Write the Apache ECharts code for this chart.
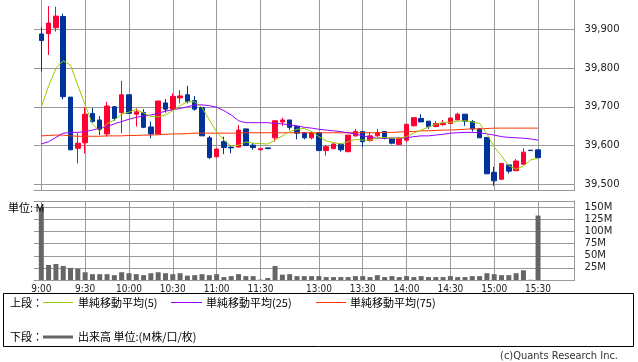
<!DOCTYPE html>
<html><head><meta charset="utf-8">
<script src="https://cdn.jsdelivr.net/npm/echarts@6/dist/echarts.min.js"></script>
<style>html,body{margin:0;padding:0;background:#fff}#c{width:638px;height:362px}</style>
</head><body><div id="c"></div>
<script>
// ---- data (5-minute bars) ----
const times = ['9:00','9:05','9:10','9:15','9:20','9:25','9:30','9:35','9:40','9:45','9:50','9:55',
 '10:00','10:05','10:10','10:15','10:20','10:25','10:30','10:35','10:40','10:45','10:50','10:55',
 '11:00','11:05','11:10','11:15','11:20','11:25','11:30',
 '12:25','12:30','12:35','12:40','12:45','12:50','12:55',
 '13:00','13:05','13:10','13:15','13:20','13:25','13:30','13:35','13:40','13:45','13:50','13:55',
 '14:00','14:05','14:10','14:15','14:20','14:25','14:30','14:35','14:40','14:45','14:50','14:55',
 '15:00','15:05','15:10','15:15','15:20','15:25','15:30'];
const tickLabels = ['9:00','9:30','10:00','10:30','11:00','11:30','13:00','13:30','14:00','14:30','15:00','15:30'];

const open  = [39888,39889,39904,39933,39725,39593,39607,39683,39666,39630,39700,39685,39731,39681,39685,39648,39630,39710,39694,39723,39731,39716,39698,39620,39571,39610,39596,39596,39643,39601,39589,39594,39620,39661,39666,39649,39633,39620,39633,39587,39592,39603,39584,39625,39636,39613,39625,39636,39619,39603,39614,39651,39670,39663,39649,39654,39657,39666,39681,39662,39643,39621,39531,39513,39550,39535,39552,39588,39589];
const close = [39871,39916,39934,39726,39589,39606,39681,39662,39642,39702,39670,39731,39683,39687,39647,39630,39715,39694,39727,39728,39714,39694,39625,39569,39591,39595,39594,39640,39600,39595,39592,39592,39664,39666,39647,39632,39620,39633,39587,39597,39604,39589,39627,39636,39610,39625,39633,39619,39606,39619,39655,39672,39661,39649,39657,39657,39671,39681,39663,39643,39620,39527,39509,39554,39534,39560,39583,39587,39569];
const low   = [39791,39834,39894,39719,39588,39554,39580,39659,39627,39623,39664,39632,39682,39649,39645,39619,39630,39685,39692,39709,39709,39690,39625,39565,39570,39578,39580,39595,39599,39589,39588,39592,39610,39651,39640,39616,39616,39616,39586,39574,39591,39584,39584,39623,39596,39610,39623,39616,39603,39601,39609,39649,39661,39643,39647,39651,39655,39666,39651,39636,39620,39527,39496,39513,39528,39535,39551,39587,39569];
const high  = [39905,39960,39958,39940,39725,39632,39699,39697,39676,39713,39702,39767,39731,39696,39694,39662,39715,39720,39735,39743,39754,39728,39698,39625,39593,39623,39600,39653,39643,39607,39592,39594,39664,39672,39666,39649,39635,39636,39633,39601,39606,39606,39627,39643,39636,39634,39643,39636,39619,39621,39655,39672,39681,39663,39663,39666,39672,39685,39681,39666,39645,39621,39545,39554,39550,39565,39593,39588,39589];

const volume = [150,31,33,29,25,23,16,12,12,12,10,16,14,12,10,14,16,14,12,14,9,10,12,10,12,6,8,12,8,8,0.7,4,29,11,12,8,8,8,8,6,6,6,6,8,8,6,10,6,8,6,8,6,8,6,6,6,8,6,6,8,8,14,12,10,10,14,20,0.5,133];

const ma5  = [39699,39754,39799,39819,39807,39755,39705,39655,39637,39657,39666,39681,39686,39693,39684,39675,39674,39679,39690,39703,39713,39713,39698,39666,39635,39614,39598,39601,39609,39606,39605,39604,39614,39625,39636,39642,39644,39636,39623,39612,39608,39604,39610,39616,39614,39614,39620,39621,39619,39619,39623,39632,39640,39648,39655,39660,39660,39663,39664,39661,39657,39630,39596,39573,39548,39539,39547,39563,39567];
const ma25 = [39604,39610,39621,39632,39634,39634,39636,39640,39645,39649,39656,39662,39668,39673,39676,39679,39683,39689,39692,39696,39700,39705,39705,39703,39699,39690,39679,39664,39659,39659,39659,39659,39657,39656,39653,39651,39647,39645,39642,39640,39638,39636,39633,39630,39625,39621,39619,39619,39619,39619,39620,39623,39625,39625,39627,39629,39632,39633,39634,39634,39633,39630,39627,39623,39621,39620,39619,39617,39614];
const ma75 = [39625,39626,39627,39627,39625,39624,39624,39624,39624,39625,39625,39625,39626,39626,39627,39627,39628,39629,39630,39630,39631,39632,39632,39632,39632,39632,39632,39632,39633,39633,39633,39633,39633,39633,39633,39633,39633,39633,39633,39633,39633,39633,39633,39633,39633,39633,39633,39634,39634,39635,39636,39636,39638,39638,39639,39640,39640,39641,39642,39643,39643,39644,39645,39645,39645,39645,39645,39645,39645];

const priceTicks = {min: 39500, max: 39900, step: 100};
const volTicks = {min: 0, max: 150, step: 25};

// ---- layout helpers ----
const SLOT = 7.305, LEFT = 34, NSLOT = 74;
const W = SLOT * NSLOT;
const cats = ['p0'].concat(times).concat(['p1','p2','p3','p4','p5']);
const isTick = (i, v) => tickLabels.indexOf(v) >= 0;
const GRID = '#999';
const AX_FONT = 'DejaVu Sans';
const JP = '"Noto Sans CJK JP", sans-serif';

const candleData = times.map((t, i) => [i + 1, open[i], close[i], low[i], high[i]]);
const lineData = arr => arr.map((v, i) => [i + 1, v]);

const chart = echarts.init(document.getElementById('c'), null, {renderer: 'canvas'});
chart.setOption({
  animation: false,
  backgroundColor: '#fff',
  grid: [
    {left: LEFT, top: 0, width: W, height: 190},
    {left: LEFT, top: 29.3, width: W, height: 155},
    {left: LEFT, top: 201, width: W, height: 79},
    {left: LEFT, top: 207.3, width: W, height: 72.7}
  ],
  xAxis: [
    {gridIndex: 0, type: 'category', data: cats, boundaryGap: false,
     axisLine: {show: true, lineStyle: {color: GRID}}, axisTick: {show: false}, axisLabel: {show: false},
     splitLine: {show: true, interval: isTick, lineStyle: {color: GRID, width: 1}}},
    {gridIndex: 1, type: 'value', show: false, min: 0, max: 1},
    {gridIndex: 2, type: 'category', data: cats, boundaryGap: false,
     axisLine: {show: true, lineStyle: {color: GRID}}, axisTick: {show: false},
     axisLabel: {show: true, interval: isTick, margin: 4, fontFamily: '"DejaVu Sans Condensed", "DejaVu Sans"', fontSize: 10, color: '#222'},
     splitLine: {show: true, interval: isTick, lineStyle: {color: GRID, width: 1}}},
    {gridIndex: 2, type: 'category', data: cats, boundaryGap: false, position: 'top',
     axisLine: {show: true, lineStyle: {color: GRID}}, axisTick: {show: false}, axisLabel: {show: false}, splitLine: {show: false}},
    {gridIndex: 3, type: 'value', show: false, min: 0, max: 1}
  ],
  yAxis: [
    {gridIndex: 0, type: 'value', position: 'right', min: 39485.3, max: 39975.6, scale: true,
     axisLine: {show: true, lineStyle: {color: GRID}}, axisTick: {show: false}, axisLabel: {show: false}, splitLine: {show: false}},
    {gridIndex: 1, type: 'value', position: 'right', min: priceTicks.min, max: priceTicks.max, interval: priceTicks.step,
     axisLine: {show: false}, axisTick: {show: true, length: 6, lineStyle: {color: GRID}},
     axisLabel: {margin: 10, fontFamily: AX_FONT, fontSize: 10, color: '#222', formatter: v => v.toLocaleString('en-US')},
     splitLine: {show: true, lineStyle: {color: GRID, width: 1}}},
    {gridIndex: 2, type: 'value', position: 'right', min: 0, max: 163,
     axisLine: {show: true, lineStyle: {color: GRID}}, axisTick: {show: false}, axisLabel: {show: false}, splitLine: {show: false}},
    {gridIndex: 3, type: 'value', position: 'right', min: volTicks.min, max: volTicks.max, interval: volTicks.step,
     axisLine: {show: false}, axisTick: {show: true, length: 6, lineStyle: {color: GRID}},
     axisLabel: {margin: 10, fontFamily: AX_FONT, fontSize: 10, color: '#222', formatter: v => v === 0 ? '' : v + 'M'},
     splitLine: {show: true, lineStyle: {color: GRID, width: 1}}}
  ],
  series: [
    {type: 'candlestick', xAxisIndex: 0, yAxisIndex: 0, data: candleData, encode: {x: 0, y: [1, 2, 3, 4]},
     barWidth: 5, z: 3,
     itemStyle: {color: '#ff0033', color0: '#003399', borderColor: '#ff0033', borderColor0: '#003399', borderWidth: 1}},
    {type: 'line', name: 'ma75', xAxisIndex: 0, yAxisIndex: 0, data: lineData(ma75), symbol: 'none', z: 4,
     lineStyle: {color: '#ff3300', width: 1}},
    {type: 'line', name: 'ma25', xAxisIndex: 0, yAxisIndex: 0, data: lineData(ma25), symbol: 'none', z: 4,
     lineStyle: {color: '#9900ff', width: 1}},
    {type: 'line', name: 'ma5', xAxisIndex: 0, yAxisIndex: 0, data: lineData(ma5), symbol: 'none', z: 4,
     lineStyle: {color: '#99cc00', width: 1}},
    {type: 'bar', xAxisIndex: 2, yAxisIndex: 2, data: lineData(volume), barWidth: 5,
     itemStyle: {color: '#666'}}
  ],
  graphic: [
    {type: 'text', left: 8, top: 202, z: 10, style: {text: '単位: M', font: '11px ' + JP, fill: '#000'}},
    {type: 'rect', shape: {x: 3.5, y: 293.5, width: 630, height: 53}, style: {fill: 'none', stroke: '#000', lineWidth: 1}},
    {type: 'text', x: 10, y: 303, style: {text: '上段：', font: '11px ' + JP, fill: '#000', verticalAlign: 'middle'}},
    {type: 'line', shape: {x1: 43, y1: 302.5, x2: 73, y2: 302.5}, style: {stroke: '#99cc00', lineWidth: 1}},
    {type: 'text', x: 78, y: 303, style: {text: '単純移動平均(5)', font: '11px ' + JP, fill: '#000', verticalAlign: 'middle'}},
    {type: 'line', shape: {x1: 171, y1: 302.5, x2: 202, y2: 302.5}, style: {stroke: '#9900ff', lineWidth: 1}},
    {type: 'text', x: 206, y: 303, style: {text: '単純移動平均(25)', font: '11px ' + JP, fill: '#000', verticalAlign: 'middle'}},
    {type: 'line', shape: {x1: 316, y1: 302.5, x2: 346, y2: 302.5}, style: {stroke: '#ff3300', lineWidth: 1}},
    {type: 'text', x: 350, y: 303, style: {text: '単純移動平均(75)', font: '11px ' + JP, fill: '#000', verticalAlign: 'middle'}},
    {type: 'text', x: 10, y: 337, style: {text: '下段：', font: '11px ' + JP, fill: '#000', verticalAlign: 'middle'}},
    {type: 'line', shape: {x1: 43, y1: 337, x2: 73, y2: 337}, style: {stroke: '#666', lineWidth: 3}},
    {type: 'text', x: 78, y: 337, style: {text: '出来高 単位:(M株/口/枚)', font: '11px ' + JP, fill: '#000', verticalAlign: 'middle'}},
    {type: 'text', x: 618, y: 356, style: {text: '(c)Quants Research Inc.', font: '11px "DejaVu Sans Condensed", "DejaVu Sans"', fill: '#333', align: 'right', verticalAlign: 'middle'}}
  ]
});
</script></body></html>
